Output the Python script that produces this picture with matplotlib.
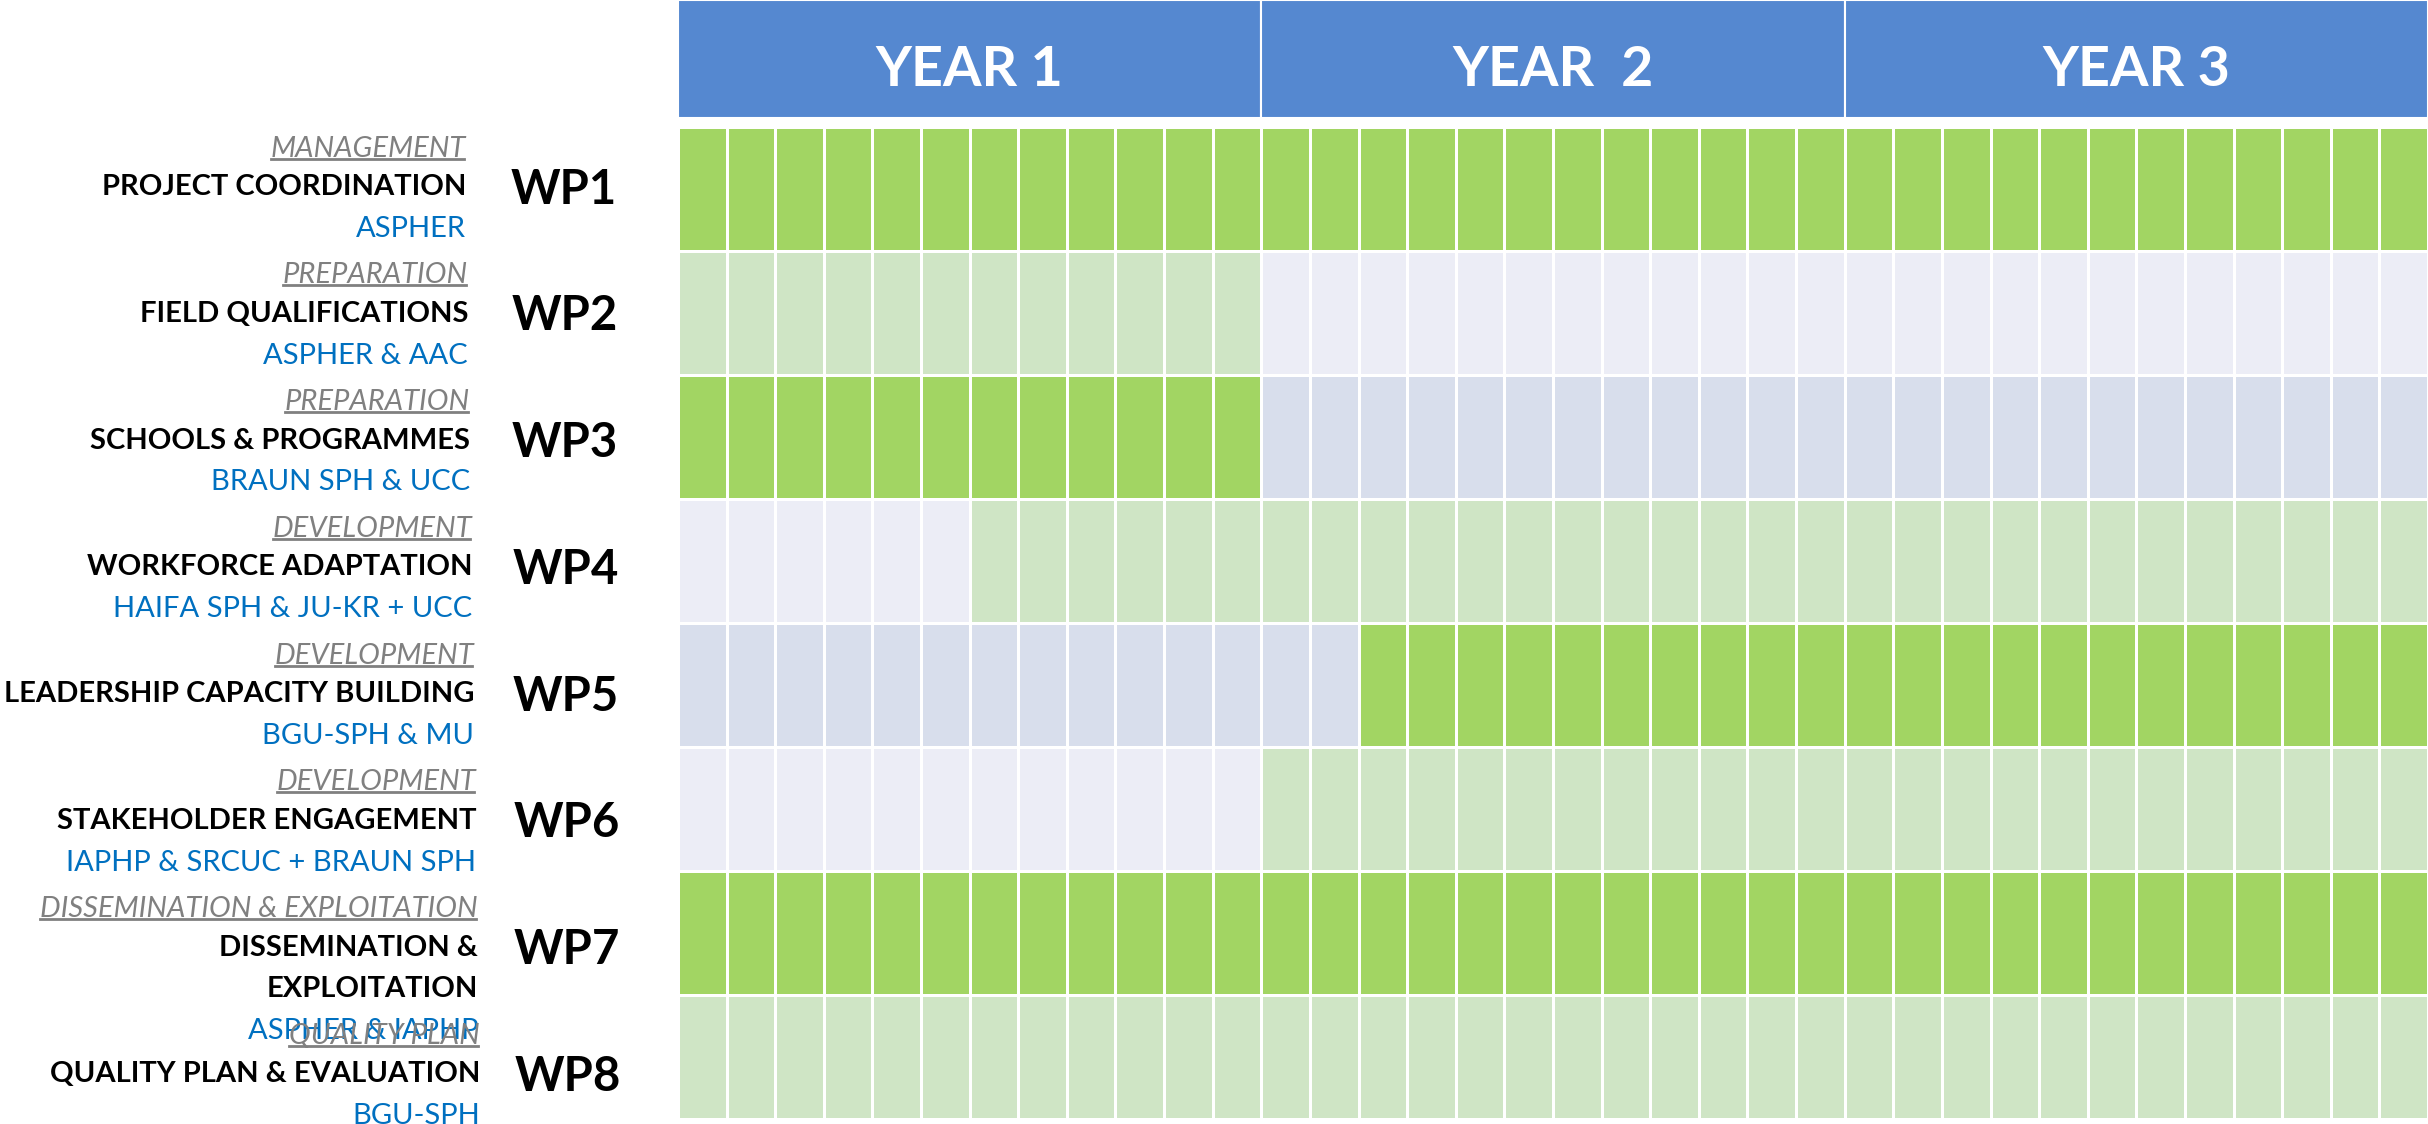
import numpy as np
import matplotlib
matplotlib.use("Agg")
import matplotlib.pyplot as plt
from matplotlib.colors import ListedColormap
from matplotlib.lines import Line2D

# ---------------------------- DATA --------------------------------#
years = ["YEAR 1", "YEAR  2", "YEAR 3"]
months_per_year = 12

wp_codes = ["WP1", "WP2", "WP3", "WP4", "WP5", "WP6", "WP7", "WP8"]
categories = ["MANAGEMENT", "PREPARATION", "PREPARATION", "DEVELOPMENT",
              "DEVELOPMENT", "DEVELOPMENT", "DISSEMINATION & EXPLOITATION",
              "QUALITY PLAN"]
titles = ["PROJECT COORDINATION", "FIELD QUALIFICATIONS",
          "SCHOOLS & PROGRAMMES", "WORKFORCE ADAPTATION",
          "LEADERSHIP CAPACITY BUILDING", "STAKEHOLDER ENGAGEMENT",
          "DISSEMINATION &\nEXPLOITATION", "QUALITY PLAN & EVALUATION"]
leads = ["ASPHER", "ASPHER & AAC", "BRAUN SPH & UCC",
         "HAIFA SPH & JU-KR + UCC", "BGU-SPH & MU",
         "IAPHP & SRCUC + BRAUN SPH", "ASPHER & IAPHP", "BGU-SPH"]
# active months (inclusive)
start_month = [1, 1, 1, 7, 15, 13, 1, 1]
end_month = [36, 12, 12, 36, 36, 36, 36, 36]

# ---------------------------- STYLE --------------------------------#
header_blue = "#5588D0"
dark_green = "#A2D563"
light_green = "#CFE5C5"
lavender = "#ECEDF6"
blue_grey = "#D8DEEC"
cat_grey = "#808080"
lead_blue = "#0070C0"

plt.rcParams["font.family"] = ["Lato", "DejaVu Sans"]

W, H, DPI = 2428, 1124, 100
grid_left_px = 678
row_top_px = 127
row_h_px = 124
n_months = len(years) * months_per_year
month_px = (W - grid_left_px) / n_months

fig = plt.figure(figsize=(W / DPI, H / DPI), dpi=DPI)
ax = fig.add_axes([0, 0, 1, 1])
ax.set_xlim(-grid_left_px / month_px, n_months)
ax.set_ylim((H - row_top_px) / row_h_px, -row_top_px / row_h_px)
ax.axis("off")

# header
head_top = -row_top_px / row_h_px
head_bot = (118 - row_top_px) / row_h_px
yc = [months_per_year * (k + 0.5) for k in range(len(years))]
ax.bar(yc, head_top - head_bot, bottom=head_bot, width=months_per_year,
       color=header_blue, edgecolor="white", linewidth=1.5)
for xc, lab in zip(yc, years):
    ax.text(xc, (head_top + head_bot) / 2 + 0.085, lab, color="white",
            fontsize=40, fontweight="bold", ha="center", va="center")

# cells: 0 = inactive light row, 1 = inactive dark row, 2 = light active, 3 = dark active
n_rows = len(wp_codes)
codes = np.zeros((n_rows, n_months))
months = np.arange(1, n_months + 1)
for i in range(n_rows):
    dark = (i % 2 == 0)
    active = (months >= start_month[i]) & (months <= end_month[i])
    codes[i] = np.where(active, 3 if dark else 2, 1 if dark else 0)
cmap = ListedColormap([lavender, blue_grey, light_green, dark_green])
ax.pcolormesh(np.arange(n_months + 1), np.arange(n_rows + 1), codes,
              cmap=cmap, vmin=-0.5, vmax=3.5, edgecolors="white",
              linewidth=2.0)

# labels
line_step = 0.337
cat_texts = []
for i in range(n_rows):
    ty = 0.485 + 1.022 * i
    xr = -4.36 + 0.041 * i
    t = ax.text(xr, ty - 0.31, categories[i], color=cat_grey, fontsize=21,
                style="italic", ha="right", va="center")
    cat_texts.append(t)
    lines = titles[i].split("\n")
    for k, ln in enumerate(lines):
        ax.text(xr, ty + k * line_step, ln, color="black", fontsize=21,
                fontweight="bold", ha="right", va="center")
    ax.text(xr, ty + len(lines) * line_step, leads[i], color=lead_blue,
            fontsize=21, ha="right", va="center")
    ax.text(-3.44 + 0.01 * i, ty + 0.02, wp_codes[i], color="black",
            fontsize=34, fontweight="bold", ha="left", va="center")

# underline the category labels
fig.canvas.draw()
renderer = fig.canvas.get_renderer()
for t in cat_texts:
    bb = t.get_window_extent(renderer)
    yline = bb.y0 + 3
    fig.add_artist(Line2D([bb.x0, bb.x1 - 2], [yline, yline], transform=None,
                          color=cat_grey, linewidth=2.0))

fig.savefig("out.png", dpi=DPI)
